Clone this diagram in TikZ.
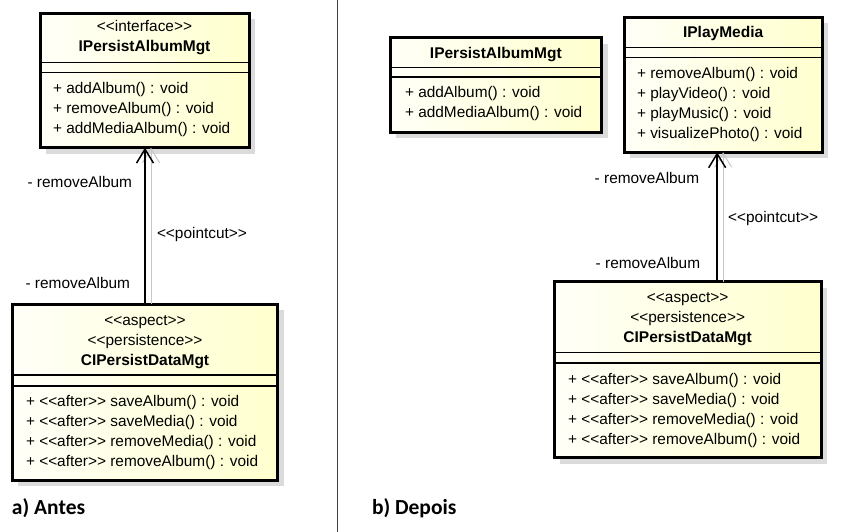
\documentclass[tikz,border=0pt]{standalone}
\usepackage{fontspec}
\setmainfont{Liberation Sans}[Ligatures=TeXOff]
\newfontfamily\captionfont{Carlito}
\usetikzlibrary{arrows.meta,shadows,positioning}

\definecolor{boxpale}{RGB}{255,255,248}
\definecolor{boxyellow}{RGB}{255,255,206}

\begin{document}
\begin{tikzpicture}[x=1pt,y=-1pt]
	\tikzstyle{every node}=[inner sep=0pt, outer sep=0pt, font=\fontsize{15.4}{18}\selectfont]
	\tikzstyle{umlclass}=[draw, line width=3pt, anchor=north west, left color=boxpale, right color=boxyellow,
		general shadow={fill=black!14, shadow xshift=6pt, shadow yshift=-6pt}]
	\tikzstyle{member}=[anchor=west, text height=11pt, text depth=3pt]
	\tikzstyle{header}=[text height=11pt, text depth=3pt]
	\tikzstyle{classname}=[header, font=\fontsize{15.5}{18}\selectfont\bfseries]
	\tikzstyle{sep}=[line width=1.4pt]
	\tikzstyle{realize}=[line width=1.5pt, -{Straight Barb[length=14pt,width=17pt]}]
	\tikzstyle{pointcut}=[black!22, line width=1pt, -{Straight Barb[length=14pt,width=17pt]}]
	\tikzstyle{caption}=[anchor=west, font=\captionfont\fontsize{21.5}{24}\selectfont\bfseries]

	\useasboundingbox (0,0) rectangle (851,532);

	% divider
	\draw[black!75, line width=1pt] (337,0) -- (337,532);

	% a) Antes
	\node[umlclass, minimum width=209pt, minimum height=134.4pt] (ipA) at (40,13.3) {};
	\node[header] (ipAst) at (ipA.north |- 0,28) {<<interface>>};
	\node[classname] (ipAname) at (ipA.north |- 0,48) {IPersistAlbumMgt};
	\draw[sep] (ipA.west |- 0,62.5) -- (ipA.east |- 0,62.5);
	\draw[sep] (ipA.west |- 0,72.5) -- (ipA.east |- 0,72.5);
	\node[member] (ipA1) at (53,90) {+ addAlbum() : void};
	\node[member] (ipA2) at (53,110) {+ removeAlbum() : void};
	\node[member] (ipA3) at (53,130) {+ addMediaAlbum() : void};

	\node[umlclass, minimum width=265.4pt, minimum height=175.7pt] (ciA) at (12.3,304.3) {};
	\node[header] (ciAst1) at (ciA.north |- 0,321) {<<aspect>>};
	\node[header] (ciAst2) at (ciA.north |- 0,341) {<<persistence>>};
	\node[classname] (ciAname) at (ciA.north |- 0,361) {CIPersistDataMgt};
	\draw[sep] (ciA.west |- 0,375) -- (ciA.east |- 0,375);
	\draw[sep] (ciA.west |- 0,386) -- (ciA.east |- 0,386);
	\node[member] (ciA1) at (26,402) {+ <<after>> saveAlbum() : void};
	\node[member] (ciA2) at (26,422) {+ <<after>> saveMedia() : void};
	\node[member] (ciA3) at (26,442) {+ <<after>> removeMedia() : void};
	\node[member] (ciA4) at (26,462) {+ <<after>> removeAlbum() : void};

	\draw[pointcut] ([xshift=6pt]ciA.north) -- ([xshift=6pt]ciA.north |- ipA.south)
		node[pos=0.443, anchor=west, xshift=6pt, text=black] {<<pointcut>>};
	\draw[realize] (ciA.north) -- (ciA.north |- ipA.south)
		node[pos=0.136, anchor=east, xshift=-15pt] {- removeAlbum}
		node[pos=0.781, anchor=east, xshift=-13pt] {- removeAlbum};

	\node[caption] (capA) at (12,508) {a) Antes};

	% b) Depois
	\node[umlclass, minimum width=211.7pt, minimum height=94.6pt] (ipB) at (390,37.7) {};
	\node[classname] (ipBname) at (ipB.north |- 0,55) {IPersistAlbumMgt};
	\draw[sep] (ipB.west |- 0,67.5) -- (ipB.east |- 0,67.5);
	\draw[sep] (ipB.west |- 0,77) -- (ipB.east |- 0,77);
	\node[member] (ipB1) at (405,94) {+ addAlbum() : void};
	\node[member] (ipB2) at (405,114) {+ addMediaAlbum() : void};

	\node[umlclass, minimum width=198.3pt, minimum height=135pt] (ipM) at (624,17.3) {};
	\node[classname] (ipMname) at (ipM.north |- 0,34) {IPlayMedia};
	\draw[sep] (ipM.west |- 0,47.7) -- (ipM.east |- 0,47.7);
	\draw[sep] (ipM.west |- 0,57.5) -- (ipM.east |- 0,57.5);
	\node[member] (ipM1) at (637,75) {+ removeAlbum() : void};
	\node[member] (ipM2) at (637,95) {+ playVideo() : void};
	\node[member] (ipM3) at (637,115) {+ playMusic() : void};
	\node[member] (ipM4) at (637,135) {+ visualizePhoto() : void};

	\node[umlclass, minimum width=266.7pt, minimum height=176pt] (ciB) at (554.3,281.7) {};
	\node[header] (ciBst1) at (ciB.north |- 0,298) {<<aspect>>};
	\node[header] (ciBst2) at (ciB.north |- 0,318) {<<persistence>>};
	\node[classname] (ciBname) at (ciB.north |- 0,338) {CIPersistDataMgt};
	\draw[sep] (ciB.west |- 0,352.5) -- (ciB.east |- 0,352.5);
	\draw[sep] (ciB.west |- 0,363) -- (ciB.east |- 0,363);
	\node[member] (ciB1) at (568,380) {+ <<after>> saveAlbum() : void};
	\node[member] (ciB2) at (568,400) {+ <<after>> saveMedia() : void};
	\node[member] (ciB3) at (568,420) {+ <<after>> removeMedia() : void};
	\node[member] (ciB4) at (568,440) {+ <<after>> removeAlbum() : void};

	\draw[pointcut] (ipM.south |- ciB.north) -- (ipM.south)
		node[pos=0.492, anchor=west, xshift=5pt, text=black] {<<pointcut>>};
	\draw[realize] ([xshift=-6pt]ipM.south |- ciB.north) -- ([xshift=-6pt]ipM.south)
		node[pos=0.145, anchor=east, xshift=-17pt] {- removeAlbum}
		node[pos=0.801, anchor=east, xshift=-18pt] {- removeAlbum};

	\node[caption] (capB) at (372,508) {b) Depois};
\end{tikzpicture}
\end{document}
